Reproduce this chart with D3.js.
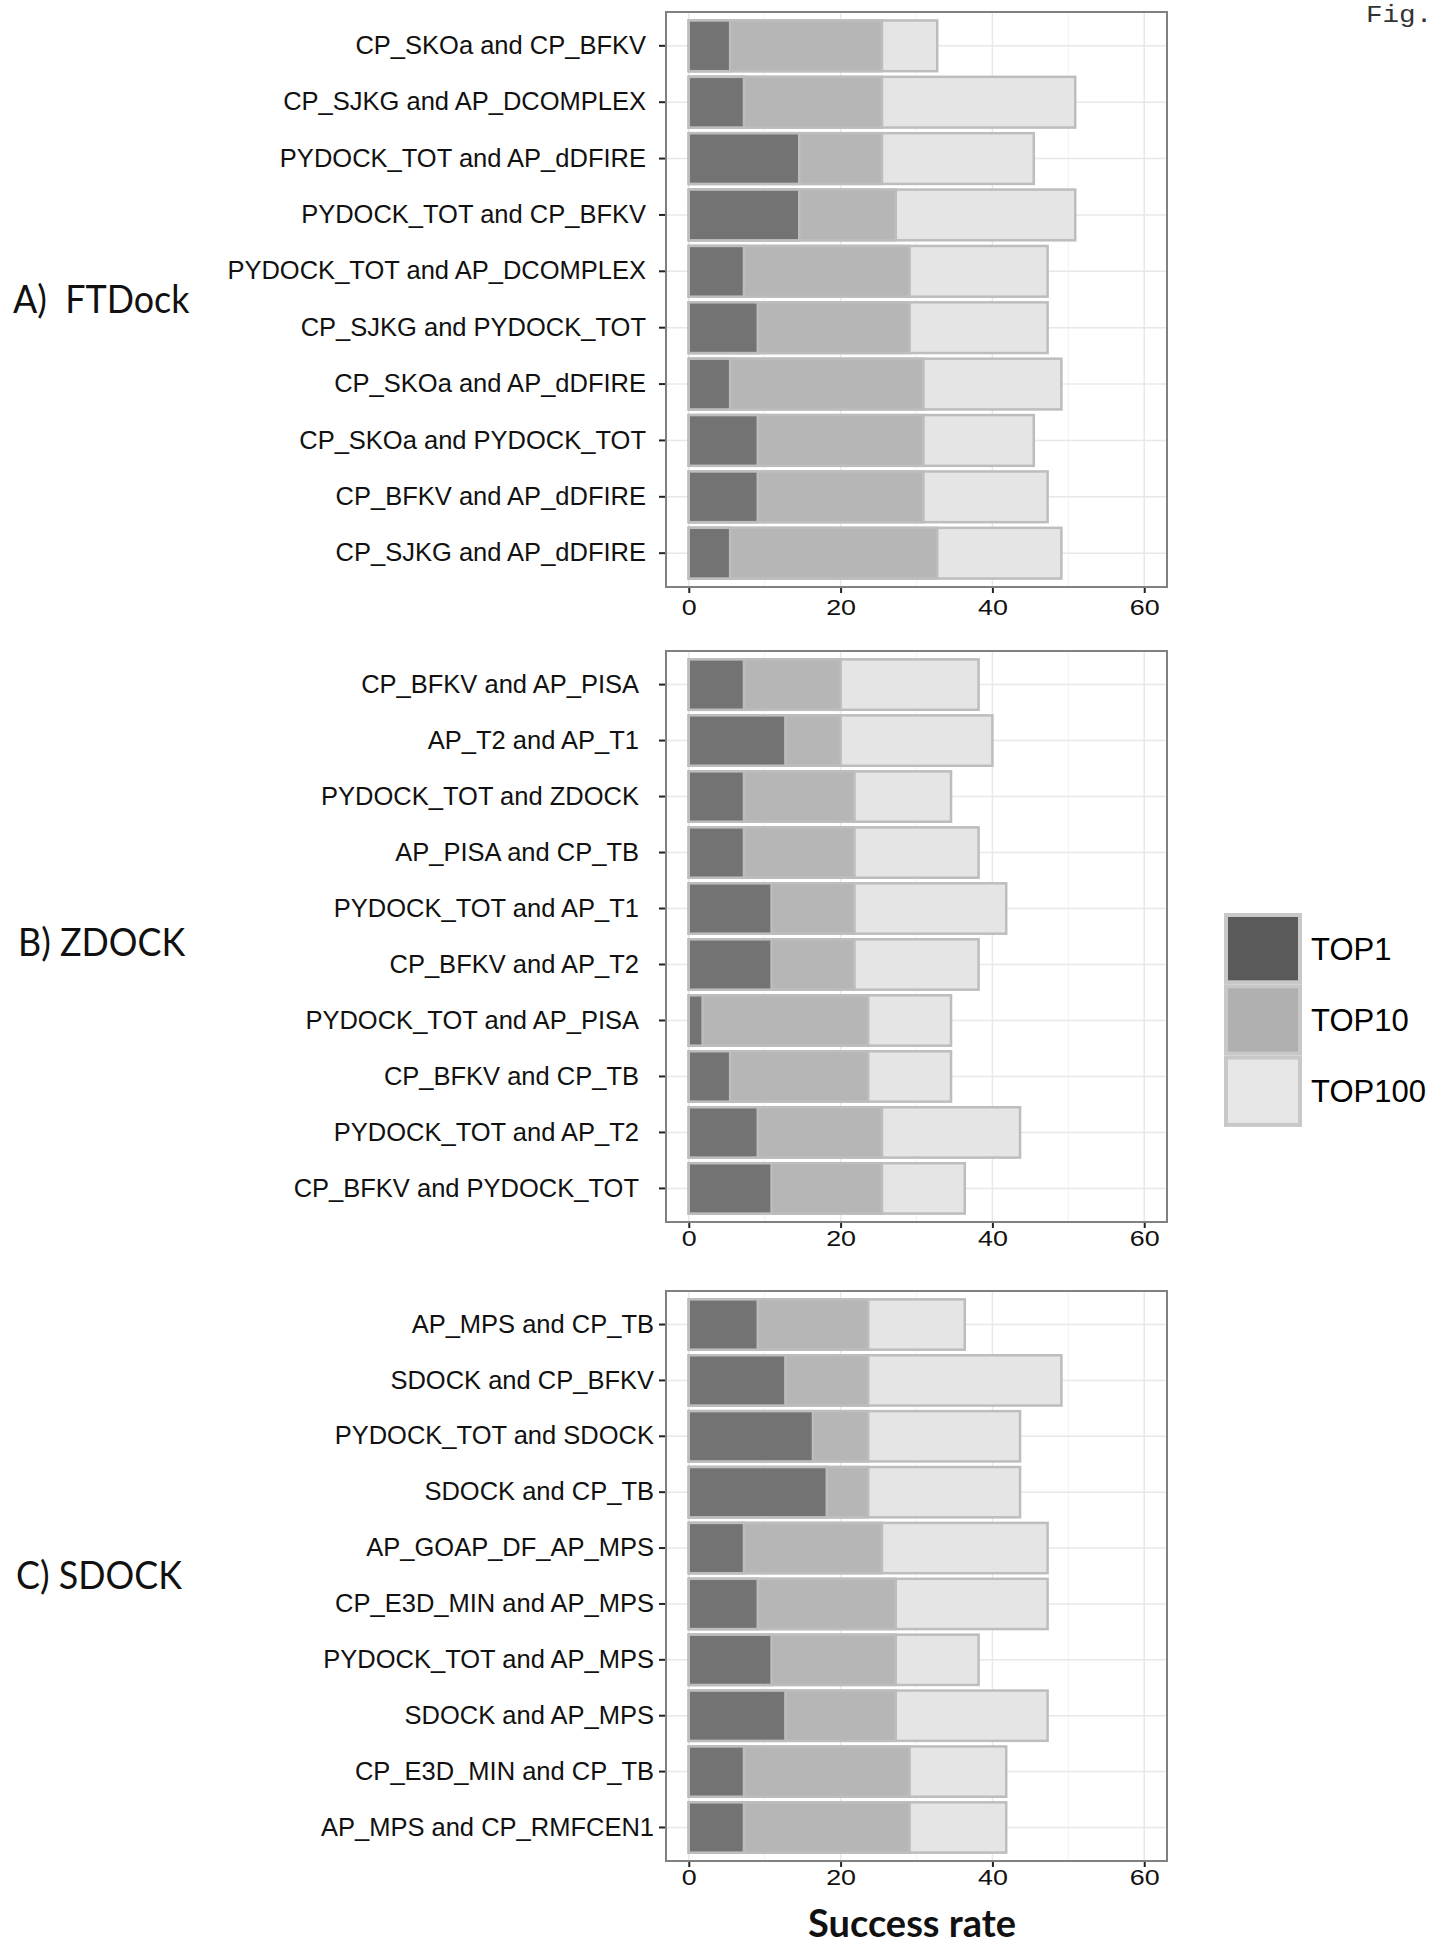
<!DOCTYPE html>
<html>
<head>
<meta charset="utf-8">
<script src="https://cdn.jsdelivr.net/npm/d3@7"></script>
<style>
  body { margin: 0; background: #fff; }
  svg { display: block; }
</style>
</head>
<body>
<div class="canvas"></div>
<script>
// series + axis
const seriesNames = ['TOP1', 'TOP10', 'TOP100'];
const xTicks = [0, 20, 40, 60];
const xMinorTicks = [10, 30, 50];

// A) FTDock
const ftdockPairs = ['CP_SKOa and CP_BFKV', 'CP_SJKG and AP_DCOMPLEX', 'PYDOCK_TOT and AP_dDFIRE',
  'PYDOCK_TOT and CP_BFKV', 'PYDOCK_TOT and AP_DCOMPLEX', 'CP_SJKG and PYDOCK_TOT',
  'CP_SKOa and AP_dDFIRE', 'CP_SKOa and PYDOCK_TOT', 'CP_BFKV and AP_dDFIRE', 'CP_SJKG and AP_dDFIRE'];
const ftdockTop1   = [5.45, 7.27, 14.55, 14.55, 7.27, 9.09, 5.45, 9.09, 9.09, 5.45];
const ftdockTop10  = [25.45, 25.45, 25.45, 27.27, 29.09, 29.09, 30.91, 30.91, 30.91, 32.73];
const ftdockTop100 = [32.73, 50.91, 45.45, 50.91, 47.27, 47.27, 49.09, 45.45, 47.27, 49.09];

// B) ZDOCK
const zdockPairs = ['CP_BFKV and AP_PISA', 'AP_T2 and AP_T1', 'PYDOCK_TOT and ZDOCK', 'AP_PISA and CP_TB',
  'PYDOCK_TOT and AP_T1', 'CP_BFKV and AP_T2', 'PYDOCK_TOT and AP_PISA', 'CP_BFKV and CP_TB',
  'PYDOCK_TOT and AP_T2', 'CP_BFKV and PYDOCK_TOT'];
const zdockTop1   = [7.27, 12.73, 7.27, 7.27, 10.91, 10.91, 1.82, 5.45, 9.09, 10.91];
const zdockTop10  = [20.00, 20.00, 21.82, 21.82, 21.82, 21.82, 23.64, 23.64, 25.45, 25.45];
const zdockTop100 = [38.18, 40.00, 34.55, 38.18, 41.82, 38.18, 34.55, 34.55, 43.64, 36.36];

// C) SDOCK
const sdockPairs = ['AP_MPS and CP_TB', 'SDOCK and CP_BFKV', 'PYDOCK_TOT and SDOCK', 'SDOCK and CP_TB',
  'AP_GOAP_DF_AP_MPS', 'CP_E3D_MIN and AP_MPS', 'PYDOCK_TOT and AP_MPS', 'SDOCK and AP_MPS',
  'CP_E3D_MIN and CP_TB', 'AP_MPS and CP_RMFCEN1'];
const sdockTop1   = [9.09, 12.73, 16.36, 18.18, 7.27, 9.09, 10.91, 12.73, 7.27, 7.27];
const sdockTop10  = [23.64, 23.64, 23.64, 23.64, 25.45, 27.27, 27.27, 27.27, 29.09, 29.09];
const sdockTop100 = [36.36, 49.09, 43.64, 43.64, 47.27, 47.27, 38.18, 47.27, 41.82, 41.82];

const barFill = { TOP1: '#737373', TOP10: '#b6b6b6', TOP100: '#e5e5e5' };
const keyFill = { TOP1: '#5a5a5a', TOP10: '#b0b0b0', TOP100: '#e6e6e6' };

const svg = d3.select('.canvas')
  .append('svg')
  .attr('width', 1431)
  .attr('height', 1948);

const x = d3.scaleLinear().domain([-3, 63]).range([666, 1167]);

const panels = [
  { title: 'A)  FTDock', pairs: ftdockPairs, vals: [ftdockTop1, ftdockTop10, ftdockTop100],
    top: 12, bottom: 587, pad: 13, xpad: 6, tx: 13, ty: 313 },
  { title: 'B) ZDOCK', pairs: zdockPairs, vals: [zdockTop1, zdockTop10, zdockTop100],
    top: 651, bottom: 1222, pad: 20, xpad: 2, tx: 18, ty: 956 },
  { title: 'C) SDOCK', pairs: sdockPairs, vals: [sdockTop1, sdockTop10, sdockTop100],
    top: 1291, bottom: 1861, pad: 5, xpad: 2, tx: 16, ty: 1589 }
];

const drawPanel = (p) => {
  const g = svg.append('g');
  const y = d3.scaleBand()
    .domain(p.pairs)
    .range([p.top, p.bottom])
    .paddingInner(0.1)
    .paddingOuter(0.15);

  // grid
  g.selectAll('line.minor').data(xMinorTicks).enter().append('line')
    .attr('x1', d => x(d)).attr('x2', d => x(d))
    .attr('y1', p.top).attr('y2', p.bottom)
    .attr('stroke', '#f3f3f3').attr('stroke-width', 1.2);
  g.selectAll('line.major').data(xTicks).enter().append('line')
    .attr('x1', d => x(d)).attr('x2', d => x(d))
    .attr('y1', p.top).attr('y2', p.bottom)
    .attr('stroke', '#e8e8e8').attr('stroke-width', 1.5);
  g.selectAll('line.hgrid').data(p.pairs).enter().append('line')
    .attr('x1', x.range()[0]).attr('x2', x.range()[1])
    .attr('y1', d => y(d) + y.bandwidth() / 2).attr('y2', d => y(d) + y.bandwidth() / 2)
    .attr('stroke', '#e8e8e8').attr('stroke-width', 1.5);

  // bars, longest series first so shorter ones sit on top
  [2, 1, 0].forEach(si => {
    const name = seriesNames[si];
    g.selectAll('rect.s' + si)
      .data(p.pairs.map((pair, i) => ({ pair, v: p.vals[si][i] })))
      .enter().append('rect')
      .attr('x', x(0))
      .attr('y', d => y(d.pair))
      .attr('width', d => x(d.v) - x(0))
      .attr('height', y.bandwidth())
      .attr('fill', barFill[name])
      .attr('stroke', '#bdbdbd')
      .attr('stroke-width', 2.5);
  });

  // panel border
  g.append('rect')
    .attr('x', x.range()[0]).attr('y', p.top)
    .attr('width', x.range()[1] - x.range()[0]).attr('height', p.bottom - p.top)
    .attr('fill', 'none').attr('stroke', '#808080').attr('stroke-width', 2);

  // axes
  const yAxis = g.append('g')
    .attr('transform', `translate(${x.range()[0] - 1},0)`)
    .call(d3.axisLeft(y).tickSize(6).tickPadding(p.pad));
  yAxis.select('.domain').remove();
  yAxis.selectAll('line').attr('stroke', '#222').attr('stroke-width', 2);
  yAxis.selectAll('text')
    .attr('font-family', '"Liberation Sans", Arial, sans-serif')
    .attr('font-size', 25.5).attr('fill', '#111');

  const xAxis = g.append('g')
    .attr('transform', `translate(0,${p.bottom + 1})`)
    .call(d3.axisBottom(x).tickValues(xTicks).tickSize(5).tickPadding(p.xpad));
  xAxis.select('.domain').remove();
  xAxis.selectAll('line').attr('stroke', '#222').attr('stroke-width', 2);
  xAxis.selectAll('text')
    .attr('font-family', '"Liberation Sans", Arial, sans-serif')
    .attr('font-size', 22).attr('fill', '#111')
    .attr('transform', 'scale(1.22,1)');

  // panel title at left (slightly condensed, the original face is narrow)
  svg.append('text')
    .attr('transform', `translate(${p.tx},${p.ty}) scale(0.92,1)`)
    .style('white-space', 'pre')
    .attr('font-family', 'Lato, "Open Sans", sans-serif')
    .attr('font-size', 39).attr('fill', '#111')
    .text(p.title);
};

panels.forEach(drawPanel);

// legend
const legend = svg.append('g').attr('transform', 'translate(1224,913)');
const keyH = 71.3;
legend.selectAll('rect').data(seriesNames).enter().append('rect')
  .attr('x', 2).attr('y', (d, i) => i * keyH + 2)
  .attr('width', 74).attr('height', keyH - 4)
  .attr('fill', d => keyFill[d])
  .attr('stroke', '#c8c8c8').attr('stroke-width', 4);
legend.selectAll('text').data(seriesNames).enter().append('text')
  .attr('x', 87).attr('y', (d, i) => i * keyH + keyH / 2)
  .attr('dy', '0.36em')
  .attr('font-family', '"Liberation Sans", Arial, sans-serif')
  .attr('font-size', 31).attr('fill', '#000')
  .text(d => d);

// x title
svg.append('text')
  .attr('x', 912).attr('y', 1937)
  .attr('text-anchor', 'middle')
  .attr('font-family', 'Lato, "Open Sans", sans-serif')
  .attr('font-weight', 'bold')
  .attr('font-size', 38).attr('fill', '#111')
  .text('Success rate');

// figure tag in the top right corner
svg.append('text')
  .attr('transform', 'translate(1366,22) scale(1.15,1)')
  .attr('font-family', '"Courier New", "Liberation Mono", monospace')
  .attr('font-size', 24).attr('fill', '#333')
  .text('Fig.');
</script>
</body>
</html>
